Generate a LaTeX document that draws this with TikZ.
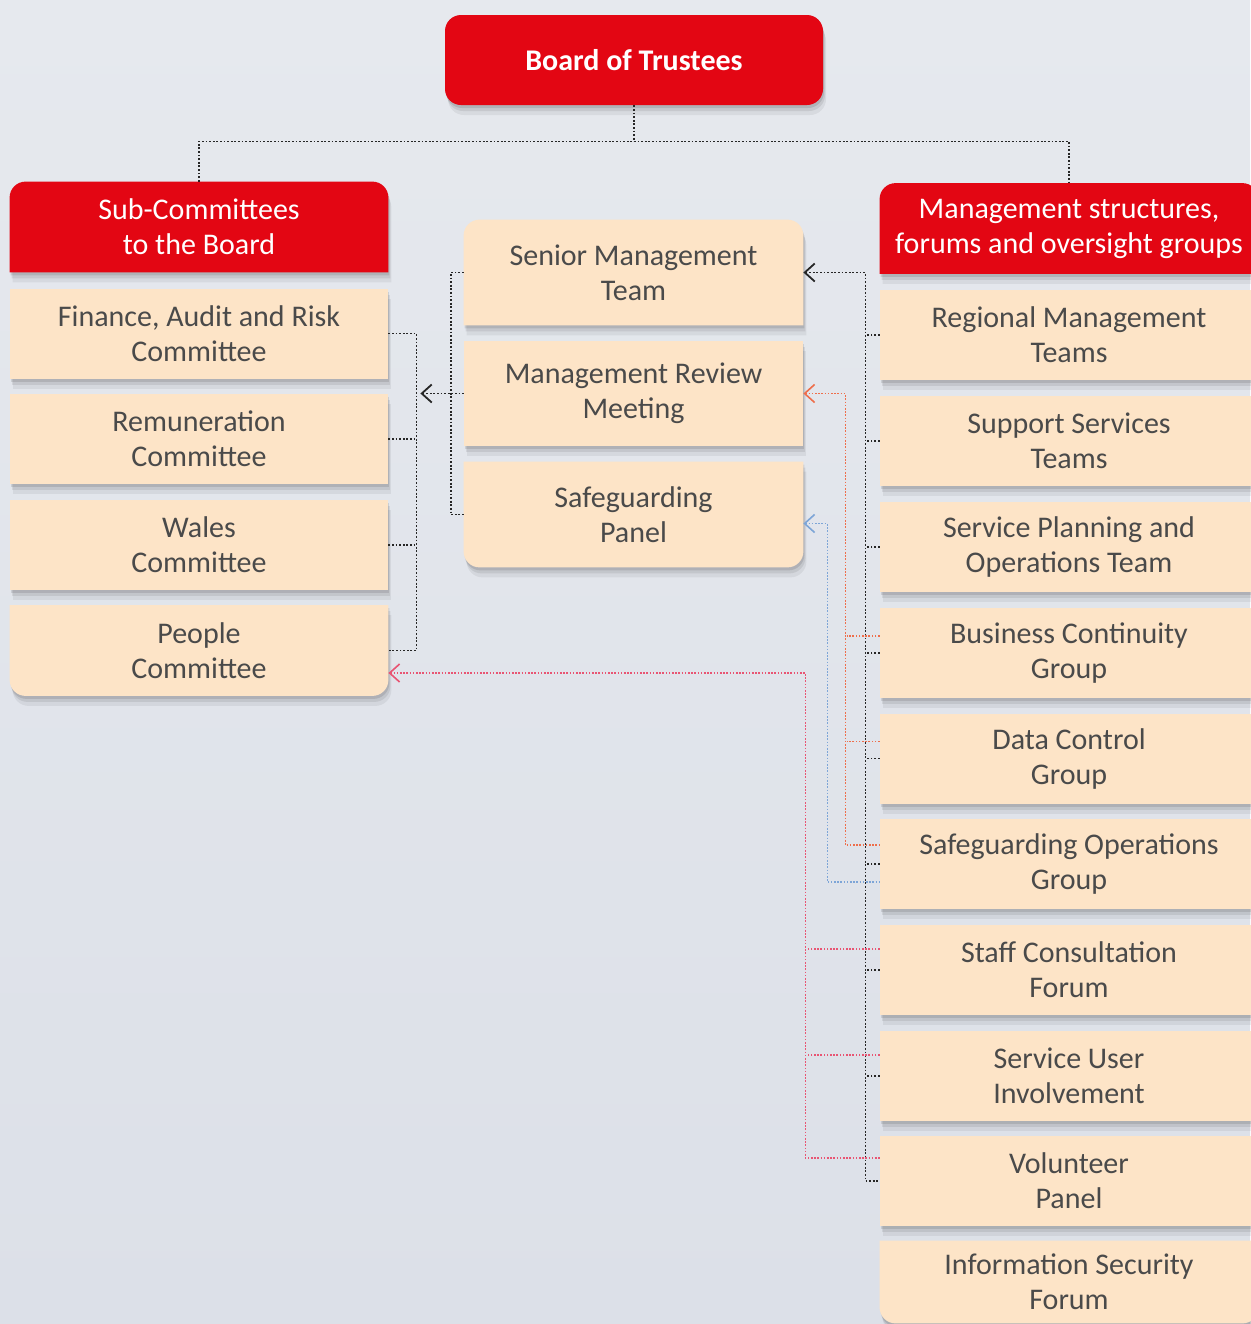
\documentclass[tikz,border=0pt]{standalone}
\usepackage{fontspec}
\setmainfont{Carlito}
\usetikzlibrary{positioning,arrows.meta,shadows,calc}

\definecolor{trustred}{RGB}{227,6,19}
\definecolor{peach}{RGB}{253,228,199}
\definecolor{inkgrey}{RGB}{74,74,74}
\definecolor{bgtop}{RGB}{230,233,238}
\definecolor{bgbot}{RGB}{220,224,232}
\definecolor{linkorange}{RGB}{238,110,75}
\definecolor{linkblue}{RGB}{125,165,215}
\definecolor{linkpink}{RGB}{232,85,115}

\pgfdeclarelayer{bg}
\pgfsetlayers{bg,main}

\tikzstyle{boxshadow} = [drop shadow={shadow xshift=0.5pt, shadow yshift=-1.5pt, opacity=0.10, fill=black},
    drop shadow={shadow xshift=1pt, shadow yshift=-3pt, opacity=0.08, fill=black},
    drop shadow={shadow xshift=1.5pt, shadow yshift=-5pt, opacity=0.06, fill=black}]
\tikzstyle{orgbox} = [rectangle, inner sep=0pt, align=center,
    font=\fontsize{15}{17.5}\selectfont]
\tikzstyle{sidehold} = [orgbox, minimum width=189pt, minimum height=45pt, text=inkgrey]
\tikzstyle{sidebox} = [sidehold, fill=peach, boxshadow]
\tikzstyle{midhold} = [orgbox, minimum width=169.5pt, minimum height=52.5pt, text=inkgrey]
\tikzstyle{midbox} = [midhold, fill=peach, boxshadow]
\tikzstyle{headbox} = [orgbox, minimum width=189pt, minimum height=45pt, text=white]
\tikzstyle{boardbox} = [orgbox, minimum width=189pt, minimum height=45pt, text=white,
    fill=trustred, rounded corners=8pt, boxshadow, font=\fontsize{15}{17.5}\selectfont\bfseries]
\tikzstyle{link} = [line width=0.9pt, dash pattern=on 0.9pt off 0.9pt, black!85]
\tikzstyle{olink} = [line width=0.8pt, dash pattern=on 0.8pt off 0.8pt, linkorange]
\tikzstyle{blink} = [line width=0.8pt, dash pattern=on 0.8pt off 0.8pt, linkblue]
\tikzstyle{plink} = [line width=0.8pt, dash pattern=on 0.8pt off 0.8pt, linkpink]

\begin{document}
\begin{tikzpicture}[x=0.5pt, y=-0.5pt, >={Straight Barb[length=5pt,width=9pt]}]
\begin{pgfonlayer}{bg}
\shade[top color=bgtop, bottom color=bgbot] (0,0) rectangle (1250,1324);
\end{pgfonlayer}
\useasboundingbox (0,0) rectangle (1250,1324);

\node[boardbox] (board) at (634,60) {Board of Trustees};

\node[headbox] (sub) at (199,227) {Sub-Committees\\to the Board};
\node[sidebox] (fin) at (199,333.5) {Finance, Audit and Risk\\Committee};
\node[sidebox] (rem) at (199,439) {Remuneration\\Committee};
\node[sidebox] (wal) at (199,545) {Wales\\Committee};
\node[sidehold] (ppl) at (199,650.5) {People\\Committee};

\node[midhold] (smt) at (633.5,272.5) {Senior Management\\Team};
\node[midbox] (mrm) at (633.5,393.5) {Management Review\\Meeting};
\node[midhold] (sgp) at (633.5,514.5) {Safeguarding\\Panel};

\node[headbox] (mgt) at (1069,228.5) {Management structures,\\forums and oversight groups};
\node[sidebox] (reg) at (1069,335) {Regional Management\\Teams};
\node[sidebox] (sup) at (1069,441) {Support Services\\Teams};
\node[sidebox] (spo) at (1069,547) {Service Planning and\\Operations Team};
\node[sidebox] (bcg) at (1069,653) {Business Continuity\\Group};
\node[sidebox] (dcg) at (1069,758.5) {Data Control\\Group};
\node[sidebox] (sog) at (1069,864) {Safeguarding Operations\\Group};
\node[sidebox] (scf) at (1069,970) {Staff Consultation\\Forum};
\node[sidebox] (sui) at (1069,1076) {Service User\\Involvement};
\node[sidebox] (vol) at (1069,1181) {Volunteer\\Panel};
\node[sidehold, minimum height=41pt] (isf) at (1069,1282) {Information Security\\Forum};

\begin{pgfonlayer}{bg}
\fill[trustred, boxshadow, rounded corners=8pt] (sub.south west) -- (sub.north west) -- (sub.north east) -- (sub.south east);
\fill[trustred, boxshadow, rounded corners=8pt] (mgt.south west) -- (mgt.north west) -- (mgt.north east) -- (mgt.south east);
\fill[peach, boxshadow, rounded corners=8pt] (ppl.north east) -- (ppl.south east) -- (ppl.south west) -- (ppl.north west);
\fill[peach, boxshadow, rounded corners=8pt] (smt.south west) -- (smt.north west) -- (smt.north east) -- (smt.south east);
\fill[peach, boxshadow, rounded corners=8pt] (sgp.north east) -- (sgp.south east) -- (sgp.south west) -- (sgp.north west);
\fill[peach, boxshadow, rounded corners=8pt] (isf.north west) -- (isf.south west) -- (isf.south east) -- (isf.north east);
\end{pgfonlayer}

\draw[link] (board.south) -- ++(0,36) coordinate (split);
\draw[link] (sub.north) |- (split) -| (mgt.north);

\draw[link] (fin.east) -- ++(28,0) coordinate (lbus) |- (ppl.east);
\draw[link] (rem.east) -- (rem.east -| lbus);
\draw[link] (wal.east) -- (wal.east -| lbus);

\draw[link] (smt.west) -- ++(-13,0) |- (sgp.west);
\draw[link,<-] ($(mrm.west -| lbus)+(4,0)$) -- (mrm.west);

\draw[link,<-] (smt.east) -- ++(62,0) coordinate (rbus) |- (vol.west);
\foreach \n in {reg,sup,spo,bcg,dcg,sog,scf,sui}
  \draw[link] (\n.west) -- (\n.west -| rbus);

\draw[olink,<-] (mrm.east) -- ++(42,0) |- ([yshift=9.5pt]sog.west);
\foreach \n in {bcg,dcg}
  \draw[olink] ([yshift=8.5pt]\n.west) -- ++(-33,0);

\draw[blink,<-] ([yshift=-4.5pt]sgp.east) -- ++(24,0) |- ([yshift=-9pt]sog.west);

\draw[plink,<-] ([yshift=-11.25pt]ppl.east) -- ++(417,0) |- ([yshift=11.5pt]vol.west);
\foreach \n in {scf,sui}
  \draw[plink] ([yshift=10.5pt]\n.west) -- ++(-73,0);
\end{tikzpicture}
\end{document}
